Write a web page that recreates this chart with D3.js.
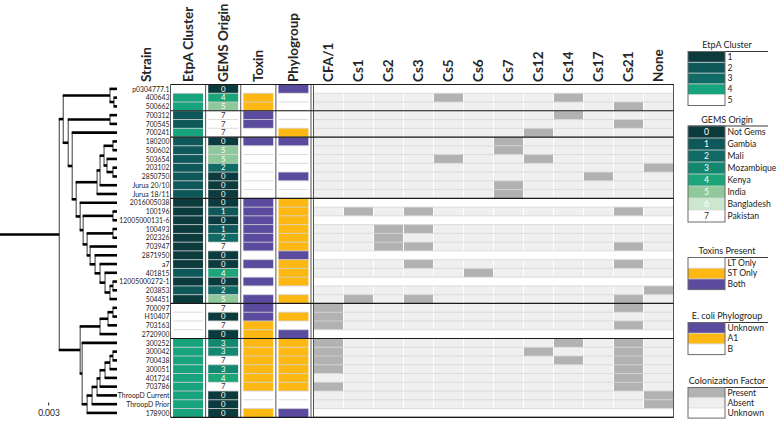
<!DOCTYPE html>
<html><head><meta charset="utf-8">
<script src="https://cdn.jsdelivr.net/npm/d3@7"></script>
<style>body{margin:0;background:#fff}svg{display:block;font-family:Lato,'Open Sans',sans-serif}</style>
</head><body><svg id="c" width="777" height="423"></svg>
<script>
// ---------------- DATA ----------------
const strains = ["p0304777.1","400643","500662","700312","700545","700241","180200","500602","503654","203102","2850750","Jurua 20/10","Jurua 18/11","2016005038","100196","12005000131-6","100493","202326","703947","2871950","a7","401815","12005000272-1","203853","504451","700097","H10407","703163","2720900","300252","300042","700438","300051","401724","703786","ThroopD Current","ThroopD Prior","178900"];
const etpaCluster = [5,4,4,2,2,4,2,2,2,2,2,2,2,1,1,1,1,1,1,1,1,2,1,2,1,5,5,5,5,4,4,4,4,4,4,4,4,4];
const gemsOrigin = [0,4,5,7,7,7,0,5,5,2,0,0,0,0,1,0,1,2,7,0,0,4,0,2,5,7,0,7,0,3,3,7,3,4,7,0,0,0];
const toxin = ["LT","ST","ST","Both","Both","LT","Both","LT","LT","LT","LT","LT","LT","Both","Both","Both","Both","Both","Both","LT","Both","LT","Both","LT","Both","Both","Both","ST","ST","ST","ST","ST","ST","ST","ST","LT","LT","ST"];
const phylogroup = ["Unknown","B","B","B","B","A1","Unknown","B","B","B","Unknown","B","B","A1","A1","A1","A1","A1","A1","Unknown","A1","A1","A1","B","A1","B","A1","B","Unknown","A1","A1","A1","A1","A1","A1","B","B","Unknown"];
const cfFactors = ["CFA/1","Cs1","Cs2","Cs3","Cs5","Cs6","Cs7","Cs12","Cs14","Cs17","Cs21","None"];
// P = present, . = absent, U = unknown (one char per factor)
const cfProfile = ["UUUUUUUUUUUU","....P...P...","..........P.","........P...","..........P.",".......P....","......P.....","......P.....","....P..P....","...........P",".........P..","......P.....","......P.....","UUUUUUUUUUUU",".P.P......P.","UUUUUUUUUUUU","..PP........","..P.........","..PP......P.","UUUUUUUUUUUU","...P......P.",".....P......","UUUUUUUUUUUU","...........P",".P.P......P.","P.........P.","P...........","P.........P.","UUUUUUUUUUUU","P.......P.P.","P......P..P.","P.......P.P.","P.........P.","..........P.","P.........P.","...........P","...........P","UUUUUUUUUUUU"];
const groupEnds = ["500662","700241","Jurua 18/11","504451","2720900"];
// tree (Newick, branch lengths in substitutions/site)
const cladeY = "((((180200:0.01,500602:0.01):0.0225,(503654:0.025,(203102:0.01,2850750:0.01):0.015):0.0075):0.01,Jurua 20/10:0.0425):0.0075,Jurua 18/11:0.05):0.0525";
const cladeZ = "(2016005038:0.0925,((100196:0.01,12005000131-6:0.01):0.075,((100493:0.01,202326:0.01):0.065,(703947:0.0675,(2871950:0.055,(a7:0.0425,(401815:0.03,((12005000272-1:0.01,203853:0.01):0.0075,504451:0.0175):0.0125):0.0125):0.0125):0.0125):0.0075):0.01):0.0075):0.01";
const cladeUpper = "((p0304777.1:0.0175,(400643:0.0075,500662:0.0075):0.01):0.1175,((700312:0.0175,700545:0.0175):0.105,(700241:0.1125,(" + cladeY + "," + cladeZ + "):0.01):0.01):0.0125):0.01";
const cladeLower = "((((700097:0.01,H10407:0.01):0.0125,703163:0.0225):0.02,2720900:0.0425):0.05,(300252:0.0875,(((((((300042:0.01,700438:0.01):0.0075,300051:0.0175):0.0125,401724:0.03):0.0125,703786:0.0425):0.0075,ThroopD Current:0.05):0.0125,ThroopD Prior:0.0625):0.0125,178900:0.075):0.0125):0.005):0.0525";
const newick = "(" + cladeUpper + "," + cladeLower + "):0.1475;";
const scaleBarValue = 0.003;
// legends
const etpaLevels = [1,2,3,4,5];
const etpaColors = ["#0c3b3e","#0e5859","#106b66","#17a37b","#ffffff"];
const gemsLevels = [0,1,2,3,4,5,6,7];
const gemsCountries = ["Not Gems","Gambia","Mali","Mozambique","Kenya","India","Bangladesh","Pakistan"];
const gemsColors = ["#0c3b3e","#0e5859","#106b66","#138870","#1ba578","#8ec89b","#cbe7cf","#ffffff"];
const toxinLevels = ["LT","ST","Both"];
const toxinLabels = ["LT Only","ST Only","Both"];
const toxinColors = ["#ffffff","#fdb813","#5a4b9f"];
const phyloLevels = ["Unknown","A1","B"];
const phyloColors = ["#5a4b9f","#fdb813","#ffffff"];
const cfLevels = ["P",".","U"];
const cfLabels = ["Present","Absent","Unknown"];
const cfColors = ["#b2b2b2","#efefef","#ffffff"];

// ---------------- HELPERS ----------------
function parseNewick(s){
  const anc=[]; let tree={}; const toks=s.split(/([(),:;])/).map(t=>t.trim());
  for(let i=0;i<toks.length;i++){
    const t=toks[i];
    if(t==="("){const sub={};tree.children=[sub];anc.push(tree);tree=sub;}
    else if(t===","){const sub={};anc[anc.length-1].children.push(sub);tree=sub;}
    else if(t===")"){tree=anc.pop();}
    else if(t===":"||t===";"||t===""){}
    else{ if(toks[i-1]===":") tree.length=parseFloat(t); else tree.name=t; }
  }
  return tree;
}

const svg = d3.select("#c");
const etpaColor = d3.scaleOrdinal(etpaLevels, etpaColors);
const gemsColor = d3.scaleOrdinal(gemsLevels, gemsColors);
const toxinColor = d3.scaleOrdinal(toxinLevels, toxinColors);
const phyloColor = d3.scaleOrdinal(phyloLevels, phyloColors);
const cfColor = d3.scaleOrdinal(cfLevels, cfColors);

const y = d3.scaleBand().domain(strains).range([84.5, 417.3]);
const bw = y.bandwidth();
const attrCols = ["EtpA Cluster","GEMS Origin","Toxin","Phylogroup"];
const ax = d3.scaleBand().domain(attrCols).range([170.5, 311]);
const cx = d3.scaleBand().domain(cfFactors).range([313.5, 673.5]);
const inset = 2.6;

// ---------------- TREE ----------------
const root = d3.hierarchy(parseNewick(newick));
root.each(d=>{ d.len = (d.parent? d.parent.len:0) + (d.data.length||0); });
const tx = d3.scaleLinear().domain([0, d3.max(root.leaves(), d=>d.len)]).range([0.5, 117]);
root.eachAfter(d=>{
  if(d.children){ d.yy = (d.children[0].yy + d.children[d.children.length-1].yy)/2; }
  else d.yy = y(d.data.name) + bw/2;
});
const gt = svg.append("g");
gt.selectAll("line.v").data(root.descendants().filter(d=>d.children)).join("line")
  .attr("x1",d=>tx(d.len)).attr("x2",d=>tx(d.len))
  .attr("y1",d=>d.children[0].yy).attr("y2",d=>d.children[d.children.length-1].yy)
  .attr("stroke","#3a3a3a").attr("stroke-width",1);
gt.selectAll("line.h").data(root.descendants()).join("line")
  .attr("x1",d=>d.parent? tx(d.parent.len)-0.5 : tx(0)-0.5).attr("x2",d=>tx(d.len))
  .attr("y1",d=>d.yy).attr("y2",d=>d.yy)
  .attr("stroke","#000").attr("stroke-width",2.6);

// scale bar
svg.append("rect").attr("x",48).attr("y",402.5).attr("width",tx(scaleBarValue)-tx(0)).attr("height",3).attr("fill","#444");
svg.append("text").attr("x",49).attr("y",416).attr("text-anchor","middle").attr("font-size",8.5).attr("fill","#222").text(scaleBarValue.toFixed(3));

// strain labels (horizontally condensed to mimic the narrow original face)
svg.append("g").attr("transform","translate(169.5,0) scale(0.88,1)").selectAll("text").data(strains).join("text")
  .attr("x",0).attr("y",d=>y(d)+bw/2).attr("dy","0.35em").attr("text-anchor","end")
  .attr("font-size",7.8).attr("fill","#222").text(d=>d);

// ---------------- ATTRIBUTE COLUMNS ----------------
const attrData = [
  {col:"EtpA Cluster", vals:etpaCluster, color:etpaColor},
  {col:"GEMS Origin", vals:gemsOrigin, color:gemsColor},
  {col:"Toxin", vals:toxin, color:toxinColor},
  {col:"Phylogroup", vals:phylogroup, color:phyloColor}
];
attrData.forEach(a=>{
  const g = svg.append("g");
  g.selectAll("rect").data(strains).join("rect")
    .attr("x",ax(a.col)+inset).attr("width",ax.bandwidth()-2*inset)
    .attr("y",d=>y(d)).attr("height",bw)
    .attr("fill",(d,i)=>a.color(a.vals[i]));
  g.selectAll("line").data(strains.slice(1)).join("line")
    .attr("x1",ax(a.col)+inset).attr("x2",ax(a.col)+ax.bandwidth()-inset)
    .attr("y1",d=>y(d)).attr("y2",d=>y(d)).attr("stroke","#d2d2d2").attr("stroke-width",0.8);
});
// GEMS numbers
svg.append("g").selectAll("text").data(strains).join("text")
  .attr("x",ax("GEMS Origin")+ax.bandwidth()/2).attr("y",d=>y(d)+bw/2).attr("dy","0.35em")
  .attr("text-anchor","middle").attr("font-size",7.8)
  .attr("fill",(d,i)=>gemsOrigin[i]===7?"#333":"#fff").text((d,i)=>gemsOrigin[i]);

// ---------------- CF GRID ----------------
const gcf = svg.append("g");
strains.forEach((s,i)=>{
  gcf.append("g").selectAll("rect").data(cfFactors).join("rect")
    .attr("x",f=>cx(f)+0.5).attr("width",cx.bandwidth()-1)
    .attr("y",y(s)).attr("height",bw)
    .attr("fill",(f,j)=>cfColor(cfProfile[i][j]));
});
gcf.append("g").selectAll("line").data(strains.slice(1)).join("line")
  .attr("x1",cx.range()[0]).attr("x2",cx.range()[1]).attr("y1",d=>y(d)).attr("y2",d=>y(d))
  .attr("stroke","#d6d6d6").attr("stroke-width",0.8);

// column borders
const yTop = y.range()[0], yBot = y.range()[1];
const vlines = attrCols.map(c=>ax(c)).concat([ax.range()[1]]);
svg.append("g").selectAll("line").data(vlines).join("line")
  .attr("x1",d=>d).attr("x2",d=>d).attr("y1",yTop).attr("y2",yBot).attr("stroke","#555").attr("stroke-width",1);
svg.append("rect").attr("x",cx.range()[0]).attr("y",yTop).attr("width",cx.range()[1]-cx.range()[0]).attr("height",yBot-yTop)
  .attr("fill","none").attr("stroke","#555").attr("stroke-width",1);
// group separators + top/bottom
const hl = [yTop, yBot].concat(groupEnds.map(s=>y(s)+bw));
svg.append("g").selectAll("line").data(hl).join("line")
  .attr("x1",170.5).attr("x2",cx.range()[1]).attr("y1",d=>d).attr("y2",d=>d)
  .attr("stroke","#1a1a1a").attr("stroke-width",1.2);

// ---------------- HEADERS ----------------
const headers = [{t:"Strain",x:146}].concat(attrCols.map(c=>({t:c,x:ax(c)+ax.bandwidth()/2})))
  .concat(cfFactors.map(f=>({t:f,x:cx(f)+cx.bandwidth()/2})));
svg.append("g").selectAll("text").data(headers).join("text")
  .attr("transform",d=>`translate(${d.x},82) rotate(-90)`).attr("dy","0.36em")
  .attr("font-size",13.5).attr("font-weight","bold").attr("fill","#262626").text(d=>d.t);

// ---------------- LEGENDS ----------------
function legend(title, topY, step, levels, colors, labels, nums){
  const g = svg.append("g");
  const x0=688, w=37;
  g.append("text").attr("x",727).attr("y",topY-3.5).attr("text-anchor","middle").attr("font-size",9).attr("fill","#222").text(title);
  g.append("line").attr("x1",x0).attr("x2",768).attr("y1",topY).attr("y2",topY).attr("stroke","#222").attr("stroke-width",0.9);
  g.selectAll("rect.s").data(levels).join("rect").attr("x",x0).attr("width",w)
    .attr("y",(d,i)=>topY+i*step).attr("height",step).attr("fill",(d,i)=>colors[i]);
  g.selectAll("line.s").data(levels.slice(1)).join("line").attr("x1",x0).attr("x2",x0+w)
    .attr("y1",(d,i)=>topY+(i+1)*step).attr("y2",(d,i)=>topY+(i+1)*step).attr("stroke","#d8d8d8").attr("stroke-width",0.8);
  g.append("rect").attr("x",x0).attr("y",topY).attr("width",w).attr("height",levels.length*step)
    .attr("fill","none").attr("stroke","#6a6a6a").attr("stroke-width",1);
  g.selectAll("text.l").data(labels).join("text").attr("x",x0+w+2.5).attr("y",(d,i)=>topY+(i+0.5)*step).attr("dy","0.34em")
    .attr("font-size",8.6).attr("fill","#222").text(d=>d);
  if(nums) g.selectAll("text.n").data(nums).join("text").attr("x",x0+w/2).attr("y",(d,i)=>topY+(i+0.5)*step).attr("dy","0.34em")
    .attr("text-anchor","middle").attr("font-size",8.6).attr("fill",(d,i)=>i===nums.length-1?"#333":"#fff").text(d=>d);
}
legend("EtpA Cluster", 51.5, 10.8, etpaLevels, etpaColors, etpaLevels.map(String));
legend("GEMS Origin", 126, 12, gemsLevels, gemsColors, gemsCountries, gemsLevels.map(String));
legend("Toxins Present", 257.5, 10.7, toxinLevels, toxinColors, toxinLabels);
legend("E. coli Phylogroup", 322.5, 10.7, phyloLevels, phyloColors, phyloLevels);
legend("Colonization Factor", 387.5, 10.2, cfLevels, cfColors, cfLabels);
</script></body></html>
